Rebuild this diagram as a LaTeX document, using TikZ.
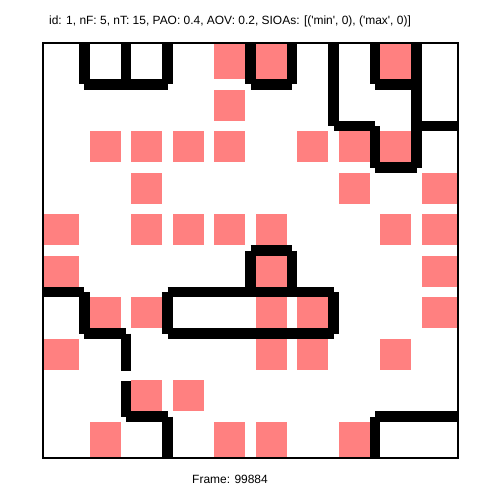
\documentclass[tikz,border=0pt]{standalone}
\usepackage{fontspec}
\setmainfont{Liberation Sans}
\definecolor{cellpink}{RGB}{255,128,128}

\begin{document}
\begin{tikzpicture}[x=1cm, y=-1cm,
  pinkcell/.style={fill=cellpink},
  wallseg/.style={draw=black, line width=0.25cm, line cap=butt},
  frameline/.style={draw=black, line width=1.1pt},
  caption/.style={font=\fontsize{8.2}{10}\selectfont, anchor=base, inner sep=0pt}]
  \fill[white] (-1.036,-1.036) rectangle (11.06,11.06);
  \useasboundingbox (-1.036,-1.036) rectangle (11.06,11.06);
  \foreach \r/\cs in {0/{4,5,8}, 1/{4}, 2/{1,2,3,4,6,7,8}, 3/{2,7,9},
      4/{0,2,3,4,5,8,9}, 5/{0,5,9}, 6/{1,2,5,6,9}, 7/{0,5,6,8}, 8/{2,3}, 9/{1,4,5,7}}
    \foreach \c in \cs {
      \pgfmathsetmacro\xa{\c==0 ? 0 : \c+0.125}
      \pgfmathsetmacro\xb{\c==9 ? 10 : \c+0.875}
      \pgfmathsetmacro\ya{\r==0 ? 0 : \r+0.125}
      \pgfmathsetmacro\yb{\r==9 ? 10 : \r+0.875}
      \fill[pinkcell] (\xa,\ya) rectangle (\xb,\yb);
    }
  \draw[wallseg] (1,0) -- (1,1) (2,0) -- (2,1) (3,0) -- (3,1) (1,1) -- (3,1);
  \draw[wallseg] (5,0) -- (5,1) (6,0) -- (6,1) (5,1) -- (6,1);
  \draw[wallseg] (7,0) -- (7,2) (7,2) -- (8,2) (8,2) -- (8,3) (8,3) -- (9,3)
    (9,0) -- (9,3) (8,0) -- (8,1) (8,1) -- (9,1) (9,2) -- (10,2);
  \draw[wallseg] (5,6) -- (5,5) (5,5) -- (6,5) (6,5) -- (6,6);
  \draw[wallseg] (3,6) -- (7,6) (7,6) -- (7,7) (3,7) -- (7,7) (3,6) -- (3,7);
  \draw[wallseg] (0,6) -- (1,6) (1,6) -- (1,7) (1,7) -- (2,7) (2,7) -- (2,7.9)
    (2,8.15) -- (2,9) (2,9) -- (3,9) (3,9) -- (3,10);
  \draw[wallseg] (8,9) -- (10,9) (8,9) -- (8,10);
  \draw[frameline] (0,0) rectangle (10,10);
  \node[caption] (title) at (4.506,-0.434) {id: 1, nF: 5, nT: 15, PAO: 0.4, AOV: 0.2, SIOAs: [(\textquotesingle min\textquotesingle, 0), (\textquotesingle max\textquotesingle, 0)]};
  \node[caption] (frameno) at (4.506,10.61) {Frame: 99884};
\end{tikzpicture}
\end{document}
